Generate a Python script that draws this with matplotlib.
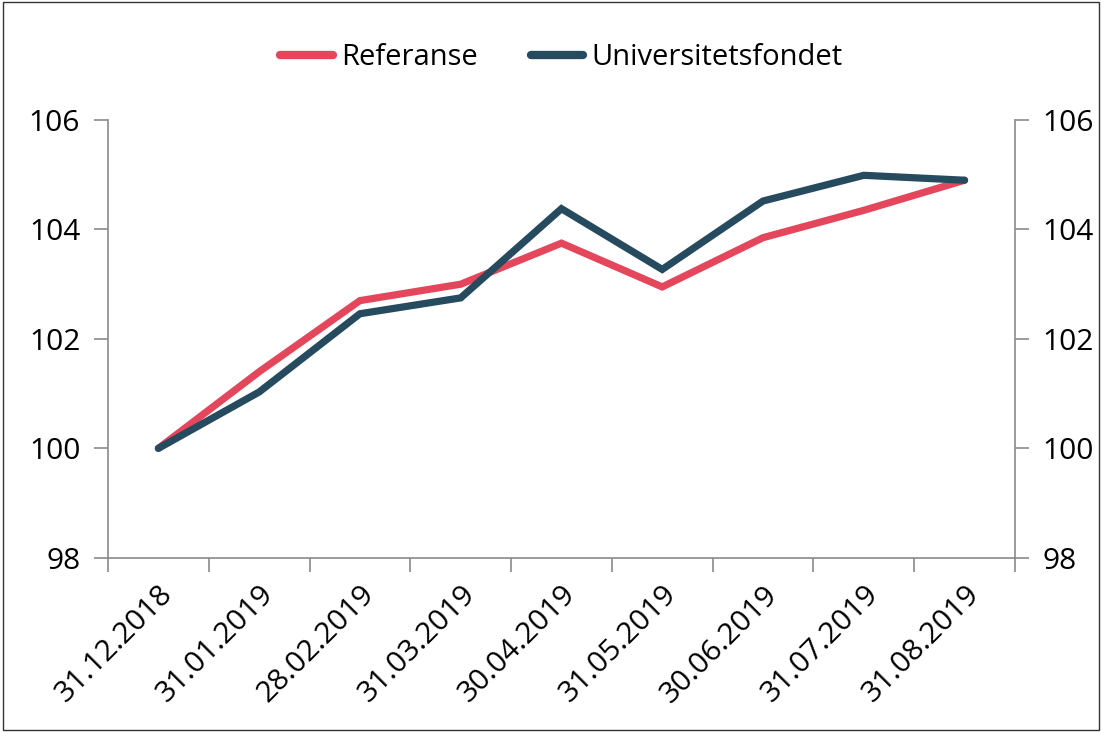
import numpy as np
import matplotlib.pyplot as plt
from matplotlib.patches import Rectangle

# ── Data ──────────────────────────────────────────────────────────────────────
dates = ["31.12.2018", "31.01.2019", "28.02.2019", "31.03.2019", "30.04.2019",
         "31.05.2019", "30.06.2019", "31.07.2019", "31.08.2019"]
referanse = [100.0, 101.4, 102.7, 103.0, 103.75, 102.95, 103.85, 104.35, 104.9]
fondet    = [100.0, 101.03, 102.46, 102.75, 104.38, 103.27, 104.52, 104.99, 104.9]

RED  = "#e4465c"
DARK = "#264a5e"
GREY = "#8a8a8a"

plt.rcParams['font.family'] = ['Open Sans', 'DejaVu Sans']

fig = plt.figure(figsize=(11.02, 7.32), dpi=100)
ax = fig.add_axes([0.098, 0.238, 0.823, 0.598])

x = np.arange(len(dates))
ax.plot(x, referanse, color=RED, lw=5.2, solid_capstyle='round',
        solid_joinstyle='miter', label="Referanse")
ax.plot(x, fondet, color=DARK, lw=5.2, solid_capstyle='round',
        solid_joinstyle='miter', label="Universitetsfondet")

ax.set_xlim(-0.5, len(dates) - 0.5)
ax.set_ylim(98, 106)
ax.set_yticks([98, 100, 102, 104, 106])
ax.set_xticks(np.arange(-0.5, len(dates), 1.0), minor=False)
ax.set_xticklabels([])
ax.set_xticks(x, minor=True)
ax.set_xticklabels(dates, minor=True, rotation=45, ha='right', va='top',
                   rotation_mode='anchor', fontsize=21.5)
ax.tick_params(axis='x', which='minor', length=0, pad=16)
ax.tick_params(axis='x', which='major', length=10, color=GREY, width=1.2)
ax.tick_params(axis='y', length=10, color=GREY, width=1.2, labelsize=21.5, pad=10)

for s in ['top', 'right']:
    ax.spines[s].set_visible(False)
for s in ['left', 'bottom']:
    ax.spines[s].set_color(GREY)
    ax.spines[s].set_linewidth(1.2)

ax2 = ax.twinx()
ax2.set_ylim(98, 106)
ax2.set_yticks([98, 100, 102, 104, 106])
ax2.tick_params(axis='y', length=10, color=GREY, width=1.2, labelsize=21.5, pad=10)
for s in ['top', 'left', 'bottom']:
    ax2.spines[s].set_visible(False)
ax2.spines['right'].set_color(GREY)
ax2.spines['right'].set_linewidth(1.2)

leg = ax.legend(loc='lower center', bbox_to_anchor=(0.5, 1.05), ncol=2,
                frameon=False, fontsize=21, handlelength=1.8,
                handletextpad=0.3, columnspacing=1.8)
for line in leg.get_lines():
    line.set_linewidth(6)

# thin frame round the chart area
fig.patches.append(Rectangle((0.003, 0.003), 0.994, 0.994, transform=fig.transFigure,
                             fill=False, edgecolor="#333333", lw=1.0))

plt.savefig("out.png", dpi=100)
